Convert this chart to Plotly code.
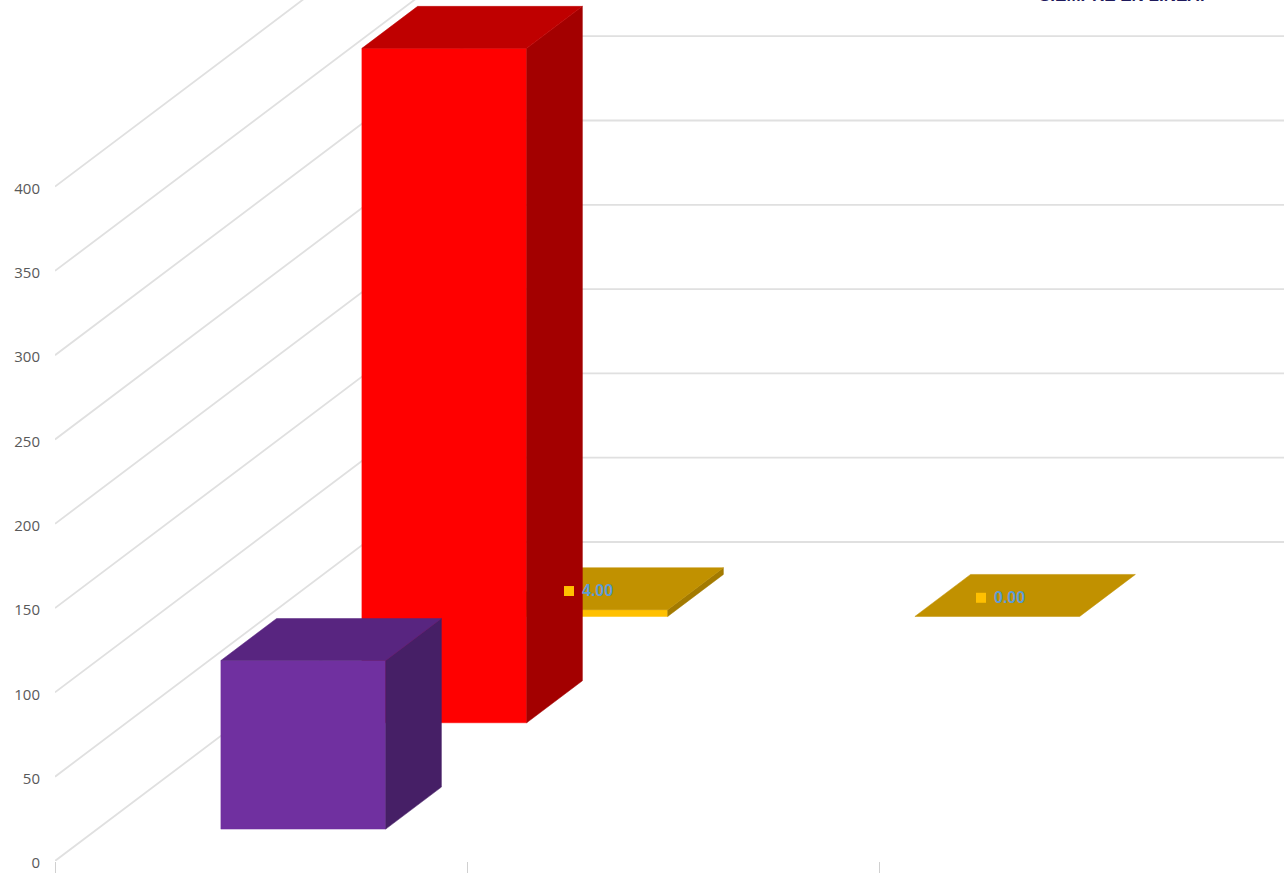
import plotly.graph_objects as go

# ---- data ----
categories = [0, 1, 2]
tick_values = [0, 50, 100, 150, 200, 250, 300, 350, 400]
tick_labels = ["0", "50", "100", "150", "200", "250", "300", "350", "400"]
series_names = ["Serie 1", "Serie 2", "Serie 3"]
purple_values = [100, None, None]
red_values = [400, None, None]
gold_values = [4, 0, None]
gold_labels = ["4.00", "0.00", None]
title_text = "SIEMPRE EN LINEA!"

# ---- colours: (front, top, side) ----
purple_faces = ("#7030A0", "#582580", "#461F66")
red_faces = ("#FF0000", "#BF0000", "#A30000")
gold_faces = ("#FFC000", "#C19100", "#A37A00")

# ---- page and oblique projection settings ----
W, H = 1284, 873
LEFT, BOTTOM = 55, 12
PX_PER_CAT = 412.0
PX_PER_VALUE = 1.686
ROW_PX_X = 141.0
ROW_PX_Y = 106.33
ROWS = 3
BAR_WIDTH = 0.4
BAR_FRONT = 0.3
BAR_DEPTH = 0.395
GRID = "#E0E0E0"

DX = ROW_PX_X / PX_PER_CAT      # category units per depth row
DY = ROW_PX_Y / PX_PER_VALUE    # value units per depth row


def proj(cat, value, depth):
    return cat + depth * DX, value + depth * DY


def poly(points, color, name):
    pts = [proj(*p) for p in points]
    xs = [p[0] for p in pts] + [pts[0][0]]
    ys = [p[1] for p in pts] + [pts[0][1]]
    return go.Scatter(x=xs, y=ys, mode="lines", fill="toself", fillcolor=color,
                      line=dict(color=color, width=0.5), hoverinfo="skip",
                      showlegend=False, name=name)


fig = go.Figure()

# gridlines: side wall diagonals, then back wall horizontals
x_max = (W - LEFT) / PX_PER_CAT
for v in tick_values:
    x0, y0 = proj(0, v, 0)
    x1, y1 = proj(0, v, ROWS)
    fig.add_trace(go.Scatter(x=[x0, x1, x_max], y=[y0, y1, y1], mode="lines",
                             line=dict(color=GRID, width=1.8), hoverinfo="skip",
                             showlegend=False))


def add_bar(cat_index, row, value, faces, name):
    xl = cat_index + 0.5 - BAR_WIDTH / 2
    xr = cat_index + 0.5 + BAR_WIDTH / 2
    df = row + BAR_FRONT
    db = df + BAR_DEPTH
    if value > 0:
        fig.add_trace(poly([(xl, 0, df), (xr, 0, df), (xr, value, df), (xl, value, df)], faces[0], name))
        fig.add_trace(poly([(xr, 0, df), (xr, 0, db), (xr, value, db), (xr, value, df)], faces[2], name))
    fig.add_trace(poly([(xl, value, df), (xr, value, df), (xr, value, db), (xl, value, db)], faces[1], name))


# back row first so nearer bars overlap it
rows = [(2, gold_values, gold_faces), (1, red_values, red_faces), (0, purple_values, purple_faces)]
for row, values, faces in rows:
    for i, value in enumerate(values):
        if value is not None:
            add_bar(categories[i], row, value, faces, series_names[row])

# data labels with their legend keys
key_x, key_y, text_x, text_y, key_text = [], [], [], [], []
for i, value in enumerate(gold_values):
    if value is not None:
        cx, cy = proj(categories[i] + 0.5, value, 2.5)
        key_x.append(cx - 44.5 / PX_PER_CAT)
        key_y.append(cy - 2.6 / PX_PER_VALUE)
        text_x.append(cx - 31.5 / PX_PER_CAT)
        text_y.append(cy - 3.6 / PX_PER_VALUE)
        key_text.append(gold_labels[i])
fig.add_trace(go.Scatter(x=key_x, y=key_y, mode="markers",
                         marker=dict(symbol="square", size=10, color="#FFC000"),
                         hoverinfo="skip", showlegend=False))
fig.add_trace(go.Scatter(x=text_x, y=text_y, mode="text", text=key_text,
                         textposition="middle right",
                         textfont=dict(family="Liberation Sans", size=16, color="#5B9BD5", weight="bold"),
                         hoverinfo="skip", showlegend=False))

fig.add_annotation(text="<b>" + title_text + "</b>", xref="paper", yref="paper",
                   x=(1121.5 - LEFT) / (W - LEFT), y=1, xanchor="center", yanchor="bottom",
                   yshift=-7, showarrow=False,
                   font=dict(family="Liberation Sans", size=17, color="#1F1A5C"))

fig.update_layout(
    width=W, height=H, margin=dict(l=LEFT, r=0, t=0, b=BOTTOM),
    paper_bgcolor="white", plot_bgcolor="white", showlegend=False,
    xaxis=dict(range=[0, x_max], showgrid=False, zeroline=False, showline=False,
               tickmode="array", tickvals=categories, ticks="outside", ticklen=12,
               tickcolor="#D0D0D0", tickwidth=1, showticklabels=False, fixedrange=True),
    yaxis=dict(range=[0, (H - BOTTOM) / PX_PER_VALUE], showgrid=False, zeroline=False, showline=False,
               tickmode="array", tickvals=tick_values, ticktext=tick_labels,
               ticks="outside", ticklen=11, tickcolor="rgba(0,0,0,0)", ticklabelshift=2,
               tickfont=dict(family="Open Sans", size=15, color="#595959"), fixedrange=True),
)

fig.write_html("out.html", config={"displayModeBar": False},
               post_script="document.body.style.margin='0';")
